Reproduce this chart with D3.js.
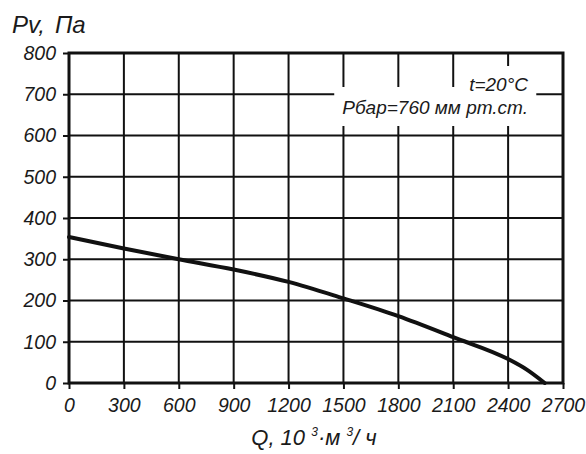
<!DOCTYPE html>
<html>
<head>
<meta charset="utf-8">
<script src="https://cdn.jsdelivr.net/npm/d3@7"></script>
<style>
  body { margin: 0; background: #fff; }
  text { font-family: "Liberation Sans", Arial, sans-serif; font-style: italic; fill: #1a1a1a; }
</style>
</head>
<body>
<script>
// fan curve
var flowQ = [0, 300, 600, 900, 1200, 1500, 1800, 2100, 2400, 2500, 2600];
var pressurePv = [354, 326, 300, 275, 245, 205, 162, 111, 58, 33, 0];
var xTicks = [0, 300, 600, 900, 1200, 1500, 1800, 2100, 2400, 2700];
var yTicks = [0, 100, 200, 300, 400, 500, 600, 700, 800];
var notes = ["t=20°C", "Pбар=760 мм рт.ст."];

var W = 586, H = 454;
var box = { left: 69, right: 563, top: 53, bottom: 383 };

var svg = d3.select("body").append("svg")
    .attr("width", W)
    .attr("height", H);

var x = d3.scaleLinear().domain([0, 2700]).range([box.left, box.right]);
var y = d3.scaleLinear().domain([0, 800]).range([box.bottom, box.top]);

// grid
svg.append("g").selectAll("line")
    .data(xTicks.slice(1, -1))
    .enter().append("line")
        .attr("x1", d => x(d)).attr("x2", d => x(d))
        .attr("y1", box.top).attr("y2", box.bottom)
        .attr("stroke", "#111").attr("stroke-width", 2);

svg.append("g").selectAll("line")
    .data(yTicks.slice(1, -1))
    .enter().append("line")
        .attr("x1", box.left).attr("x2", box.right)
        .attr("y1", d => y(d)).attr("y2", d => y(d))
        .attr("stroke", "#111").attr("stroke-width", 2);

// notes with white backing
var noteG = svg.append("g");
var noteBase = [91, 114];
var pads = [{ l: 8, r: 8, t: 8, b: 4 }, { l: 8, r: 7, t: 10, b: 8 }];
notes.forEach(function(s, i) {
    var t = noteG.append("text")
        .attr("x", 528)
        .attr("y", noteBase[i])
        .attr("text-anchor", "end")
        .attr("font-size", 19)
        .text(s);
    var bb = t.node().getBBox();
    noteG.insert("rect", "text")
        .attr("x", bb.x - pads[i].l)
        .attr("y", bb.y - pads[i].t)
        .attr("width", bb.width + pads[i].l + pads[i].r)
        .attr("height", bb.height + pads[i].t + pads[i].b)
        .attr("fill", "#fff");
});

// frame
svg.append("rect")
    .attr("x", box.left).attr("y", box.top)
    .attr("width", box.right - box.left)
    .attr("height", box.bottom - box.top)
    .attr("fill", "none")
    .attr("stroke", "#111")
    .attr("stroke-width", 3);

// axes
var xAxis = svg.append("g")
    .attr("transform", "translate(0," + box.bottom + ")")
    .call(d3.axisBottom(x).tickValues(xTicks).tickFormat(d3.format("d")).tickSize(6).tickPadding(9));
var yAxis = svg.append("g")
    .attr("transform", "translate(" + box.left + ",0)")
    .call(d3.axisLeft(y).tickValues(yTicks).tickFormat(d3.format("d")).tickSize(6).tickPadding(7));

[xAxis, yAxis].forEach(function(a) {
    a.select(".domain").remove();
    a.selectAll(".tick line").attr("stroke", "#111").attr("stroke-width", 2);
    a.selectAll(".tick text")
        .attr("fill", "#1a1a1a")
        .style("font-family", "\"Liberation Sans\", Arial, sans-serif")
        .style("font-style", "italic")
        .style("font-size", "19.5px");
});

// curve
var line = d3.line()
    .x((d, i) => x(flowQ[i]))
    .y(d => y(d))
    .curve(d3.curveMonotoneX);

svg.append("path")
    .datum(pressurePv)
    .attr("d", line)
    .attr("fill", "none")
    .attr("stroke", "#111")
    .attr("stroke-width", 4)
    .attr("stroke-linecap", "round");

// axis titles
var pt = svg.append("text")
    .attr("x", 12).attr("y", 33)
    .attr("font-size", 24);
pt.append("tspan").text("Pv,");
pt.append("tspan").attr("dx", 10).text("Па");

var qt = svg.append("text")
    .attr("x", 314).attr("y", 445)
    .attr("text-anchor", "middle")
    .attr("font-size", 22);
qt.append("tspan").text("Q, 10 ");
qt.append("tspan").attr("font-size", 12).attr("dy", -9).text("3");
qt.append("tspan").attr("dy", 9).text("·м ");
qt.append("tspan").attr("font-size", 12).attr("dy", -9).text("3");
qt.append("tspan").attr("dy", 9).text("/ ч");
</script>
</body>
</html>
